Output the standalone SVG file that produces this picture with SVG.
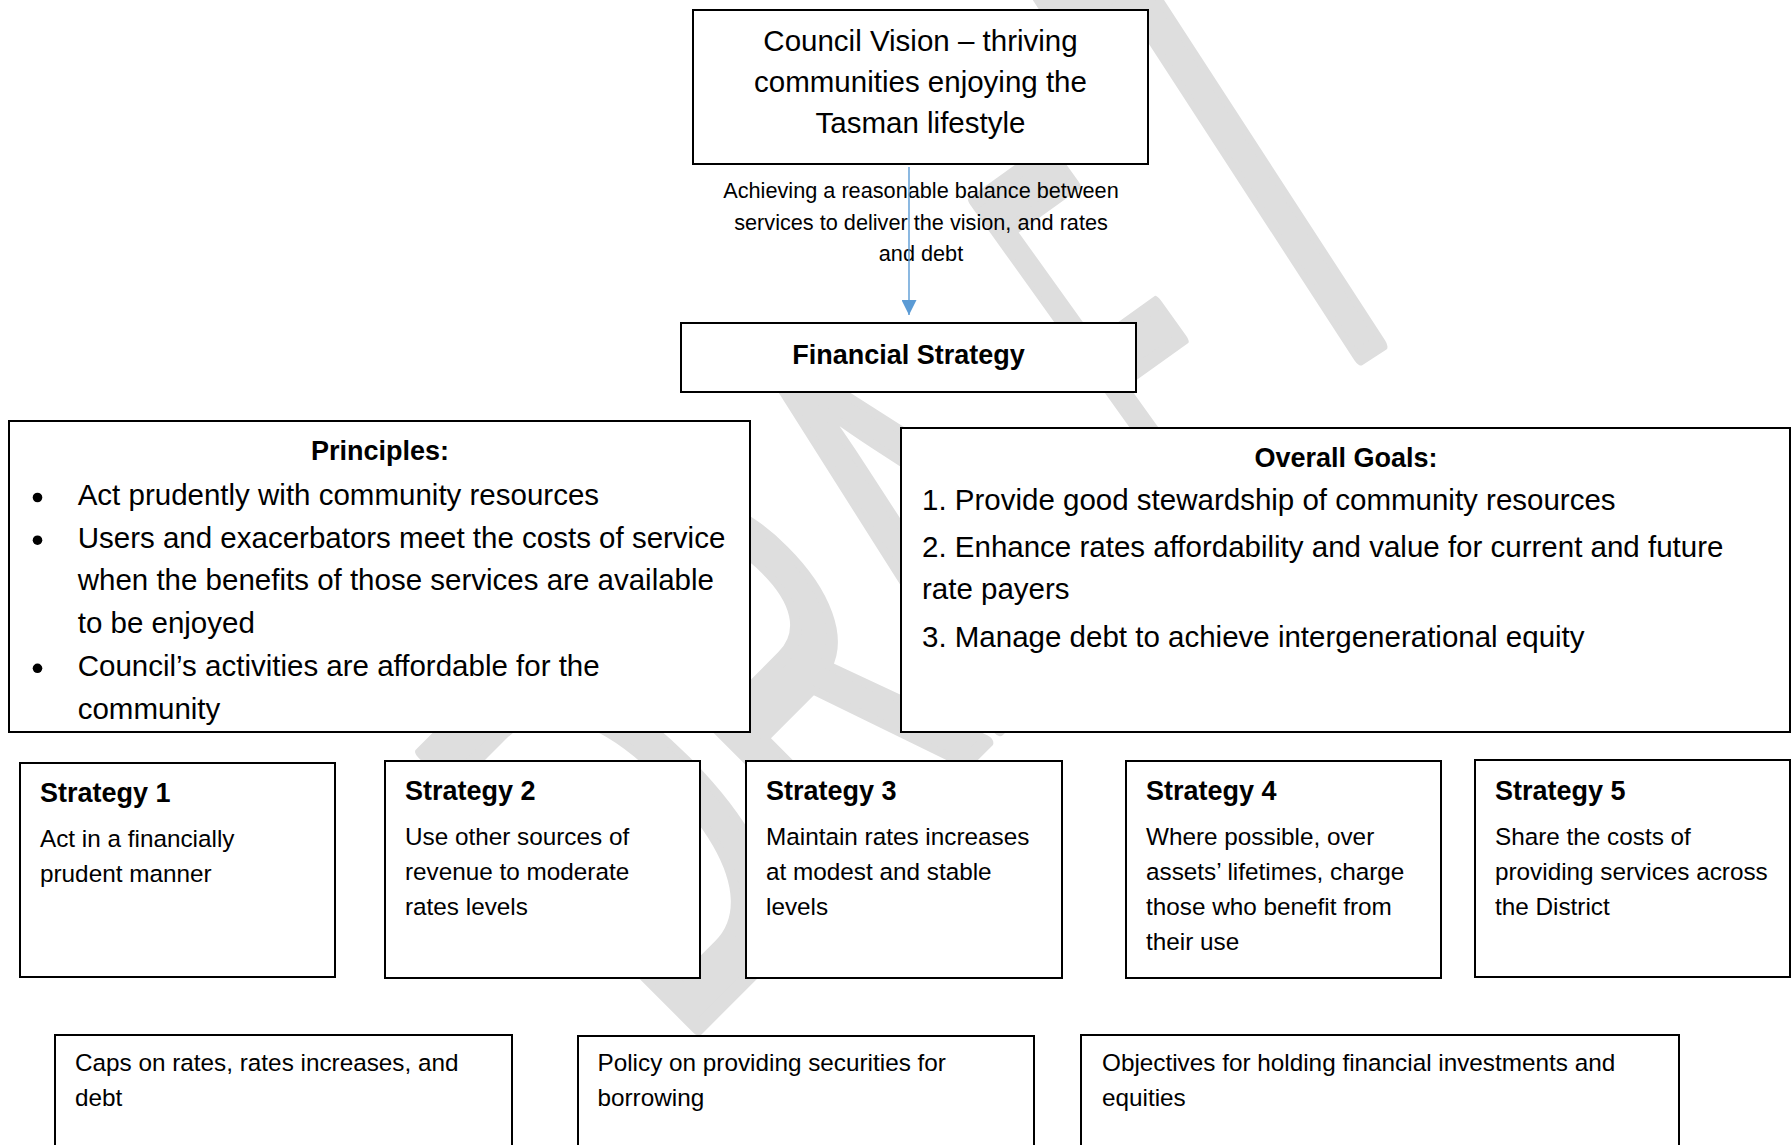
<svg xmlns="http://www.w3.org/2000/svg" width="1791" height="1145" viewBox="0 0 1791 1145">
<defs>
<style>
.box{fill:#fff;stroke:#000;stroke-width:2}
.t{font-family:"Liberation Sans",Arial,sans-serif;fill:#000}
.big{font-size:29.5px}
.hd{font-size:27px;font-weight:bold}
.sm{font-size:24.3px}
.lb{font-size:21.7px}
.c{text-anchor:middle}
.wm{font-family:"Liberation Sans",Arial,sans-serif;font-size:566px;fill:#dedede;stroke:#dedede;stroke-width:14;stroke-linejoin:round}
.conn{stroke:#5b9bd5;stroke-width:1.4;fill:none}
</style>
<marker id="ah" viewBox="0 0 10 10" refX="10" refY="5" markerWidth="15" markerHeight="15" markerUnits="userSpaceOnUse" orient="auto">
<path d="M0,0 L10,5 L0,10 z" fill="#5b9bd5"/>
</marker>
</defs>
<rect width="1791" height="1145" fill="#fff"/>
<g id="watermark">
<text class="wm" transform="matrix(0.3889 -0.3889 0.7071 0.7071 678 1048)">D</text>
<text class="wm" transform="matrix(0.3889 -0.3889 0.7071 0.7071 839 889)">R</text>
<text class="wm" transform="matrix(0.3889 -0.3889 0.7071 0.7071 997 731)">A</text>
<text class="wm" transform="matrix(0.2846 -0.2037 0.5821 0.8131 1186 530)">F</text>
<text class="wm" transform="matrix(0.4613 -0.2995 0.6644 1.0232 1290 402)">T</text>
</g>
<g id="vision">
<rect class="box" x="693" y="10" width="455" height="154"/>
<text class="t big c" x="920.5" y="51">Council Vision – thriving</text>
<text class="t big c" x="920.5" y="92">communities enjoying the</text>
<text class="t big c" x="920.5" y="133">Tasman lifestyle</text>
</g>
<g id="connectors">
<text class="t lb c" x="921" y="198">Achieving a reasonable balance between</text>
<text class="t lb c" x="921" y="230">services to deliver the vision, and rates</text>
<text class="t lb c" x="921" y="261">and debt</text>
<line class="conn" x1="909" y1="167" x2="909" y2="315" marker-end="url(#ah)"/>
</g>
<g id="financial-strategy">
<rect class="box" x="681" y="323" width="455" height="69"/>
<text class="t hd c" x="908.5" y="364">Financial Strategy</text>
</g>
<g id="principles">
<rect class="box" x="9" y="421" width="741" height="311"/>
<text class="t hd c" x="380" y="460">Principles:</text>
<circle cx="37.5" cy="497.5" r="4.8"/>
<circle cx="37.5" cy="540.2" r="4.8"/>
<circle cx="37.5" cy="668.3" r="4.8"/>
<text class="t big" x="77.7" y="505">Act prudently with community resources</text>
<text class="t big" x="77.7" y="547.7">Users and exacerbators meet the costs of service</text>
<text class="t big" x="77.7" y="590.4">when the benefits of those services are available</text>
<text class="t big" x="77.7" y="633">to be enjoyed</text>
<text class="t big" x="77.7" y="675.8">Council’s activities are affordable for the</text>
<text class="t big" x="77.7" y="718.5">community</text>
</g>
<g id="overall-goals">
<rect class="box" x="901" y="428" width="889" height="304"/>
<text class="t hd c" x="1346" y="467">Overall Goals:</text>
<text class="t big" x="922" y="509.5">1. Provide good stewardship of community resources</text>
<text class="t big" x="922" y="556.7">2. Enhance rates affordability and value for current and future</text>
<text class="t big" x="922" y="599">rate payers</text>
<text class="t big" x="922" y="647">3. Manage debt to achieve intergenerational equity</text>
</g>
<g id="strategy-1">
<rect class="box" x="20" y="763" width="315" height="214"/>
<text class="t hd" x="40" y="802">Strategy 1</text>
<text class="t sm" x="40" y="847">Act in a financially</text>
<text class="t sm" x="40" y="882">prudent manner</text>
</g>
<g id="strategy-2">
<rect class="box" x="385" y="761" width="315" height="217"/>
<text class="t hd" x="405" y="800">Strategy 2</text>
<text class="t sm" x="405" y="845">Use other sources of</text>
<text class="t sm" x="405" y="880">revenue to moderate</text>
<text class="t sm" x="405" y="915">rates levels</text>
</g>
<g id="strategy-3">
<rect class="box" x="746" y="761" width="316" height="217"/>
<text class="t hd" x="766" y="800">Strategy 3</text>
<text class="t sm" x="766" y="845">Maintain rates increases</text>
<text class="t sm" x="766" y="880">at modest and stable</text>
<text class="t sm" x="766" y="915">levels</text>
</g>
<g id="strategy-4">
<rect class="box" x="1126" y="761" width="315" height="217"/>
<text class="t hd" x="1146" y="800">Strategy 4</text>
<text class="t sm" x="1146" y="845">Where possible, over</text>
<text class="t sm" x="1146" y="880">assets’ lifetimes, charge</text>
<text class="t sm" x="1146" y="915">those who benefit from</text>
<text class="t sm" x="1146" y="950">their use</text>
</g>
<g id="strategy-5">
<rect class="box" x="1475" y="760" width="315" height="217"/>
<text class="t hd" x="1495" y="800">Strategy 5</text>
<text class="t sm" x="1495" y="845">Share the costs of</text>
<text class="t sm" x="1495" y="880">providing services across</text>
<text class="t sm" x="1495" y="915">the District</text>
</g>
<g id="caps">
<rect class="box" x="55" y="1035" width="457" height="130"/>
<text class="t sm" x="75" y="1070.5">Caps on rates, rates increases, and</text>
<text class="t sm" x="75" y="1105.5">debt</text>
</g>
<g id="securities">
<rect class="box" x="578" y="1036" width="456" height="130"/>
<text class="t sm" x="597.5" y="1071">Policy on providing securities for</text>
<text class="t sm" x="597.5" y="1106">borrowing</text>
</g>
<g id="investments">
<rect class="box" x="1081" y="1035" width="598" height="130"/>
<text class="t sm" x="1102" y="1070.5">Objectives for holding financial investments and</text>
<text class="t sm" x="1102" y="1105.5">equities</text>
</g>
</svg>
